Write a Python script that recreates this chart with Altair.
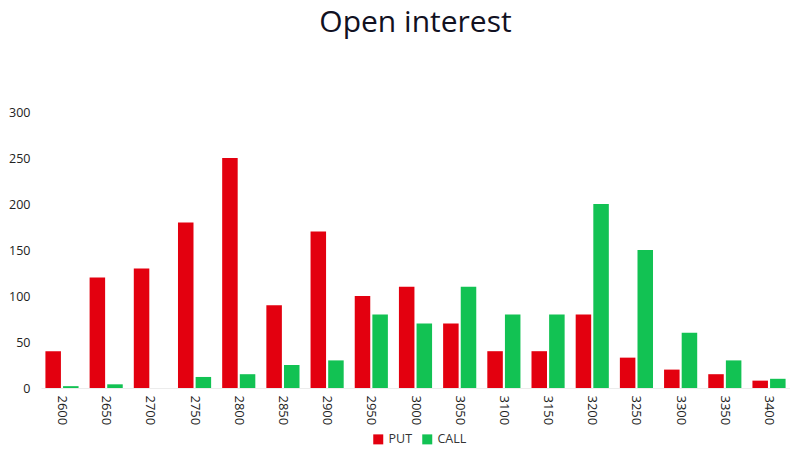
import altair as alt
import pandas as pd

strikes = ["2600", "2650", "2700", "2750", "2800", "2850", "2900", "2950", "3000",
           "3050", "3100", "3150", "3200", "3250", "3300", "3350", "3400"]
put_oi = [40, 120, 130, 180, 250, 90, 170, 100, 110, 70, 40, 40, 80, 33, 20, 15, 8]
call_oi = [2, 4, 0, 12, 15, 25, 30, 80, 70, 110, 80, 80, 200, 150, 60, 30, 10]
series = ["PUT", "CALL"]
colors = ["#e3000f", "#12c253"]

rows = []
for s, p, c in zip(strikes, put_oi, call_oi):
    rows.append({"strike": s, "type": "PUT", "value": p})
    rows.append({"strike": s, "type": "CALL", "value": c})
df = pd.DataFrame(rows)

font = "Open Sans"

chart = alt.Chart(df).mark_bar().encode(
    x=alt.X("strike:N", sort=strikes, title=None,
            scale=alt.Scale(paddingInner=0.25, paddingOuter=0.1),
            axis=alt.Axis(labelAngle=90, labelFontSize=13, labelColor="#222",
                          ticks=False, domain=True, domainColor="#ececec",
                          labelPadding=7, labelFont=font)),
    xOffset=alt.XOffset("type:N", sort=series, scale=alt.Scale(paddingInner=0.12)),
    y=alt.Y("value:Q", title=None,
            scale=alt.Scale(domain=[0, 300]),
            axis=alt.Axis(values=[0, 50, 100, 150, 200, 250, 300], grid=False,
                          ticks=False, domain=False, labelFontSize=12.5,
                          labelColor="#222", labelPadding=11, labelFont=font)),
    color=alt.Color("type:N", sort=series,
                    scale=alt.Scale(domain=series, range=colors),
                    legend=alt.Legend(orient="none", legendX=331, legendY=321,
                                      direction="horizontal", title=None,
                                      symbolType="square", symbolSize=100,
                                      labelFontSize=12.5, labelColor="#333",
                                      labelFont=font, columnPadding=8)),
).properties(
    width=749,
    height=276,
    padding={"left": 0, "top": 0, "right": 0, "bottom": 0},
    title=alt.Title("Open interest", fontSize=30, font=font, fontWeight="normal",
                    color="#111122", anchor="middle", offset=68),
).configure(background="white").configure_view(stroke=None)

chart.save("out.html", embed_options={"renderer": "svg", "actions": False})
